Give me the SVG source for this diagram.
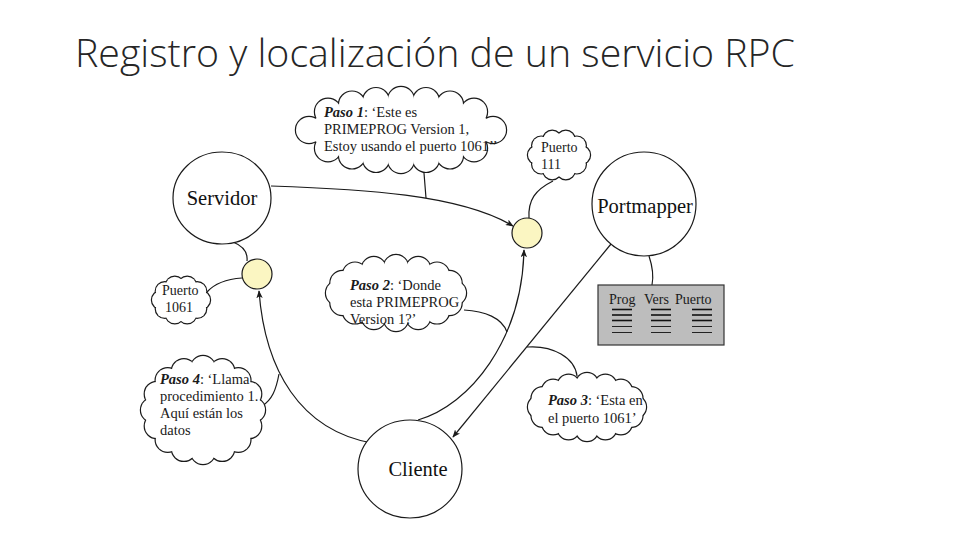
<svg xmlns="http://www.w3.org/2000/svg" xmlns:xlink="http://www.w3.org/1999/xlink" width="960" height="540" viewBox="0 0 960 540">
<style>
.bg{fill:#fff}
.title{font-family:"Open Sans","Liberation Sans",sans-serif;font-weight:300;font-size:38px;fill:#262626}
.node{fill:#fff;stroke:#1a1a1a;stroke-width:1.2}
.port{fill:#fbf6c2;stroke:#1a1a1a;stroke-width:1.2}
.lbl{font-family:"Liberation Serif","Times New Roman",serif;font-size:20.5px;fill:#111;text-anchor:middle}
.t{font-family:"Liberation Serif","Times New Roman",serif;font-size:14.5px;fill:#1a1a1a}
.ts{font-family:"Liberation Serif","Times New Roman",serif;font-size:14px;fill:#1a1a1a}
.bi{font-weight:bold;font-style:italic}
.cl-o{fill:#fff;stroke:#1a1a1a;stroke-width:2.4}
.cl-i{fill:#fff;stroke:none}
.con{fill:none;stroke:#1a1a1a;stroke-width:1.2}
.arr{fill:none;stroke:#1a1a1a;stroke-width:1.2;marker-end:url(#ah)}
.tbl{fill:#bdbdbd;stroke:#333;stroke-width:1.2}
.rk{stroke:#111;stroke-width:1.6}
.rt{stroke:#111;stroke-width:0.9}
</style>
<defs>
<marker id="ah" viewBox="0 0 10 8" refX="9" refY="4" markerWidth="8" markerHeight="6.4" orient="auto" markerUnits="userSpaceOnUse">
<path d="M0,0 L10,4 L0,8 L2.5,4 z" fill="#1a1a1a"/>
</marker>
<g id="c1">
<ellipse cx="401" cy="130" rx="92" ry="30"/>
<circle cx="328" cy="111.7" r="13"/><circle cx="352" cy="104.6" r="13"/><circle cx="376" cy="101.1" r="13"/><circle cx="401" cy="100" r="13"/><circle cx="426" cy="101.1" r="13"/><circle cx="450" cy="104.6" r="13"/><circle cx="474" cy="111.7" r="13"/>
<circle cx="493" cy="130" r="13"/>
<circle cx="474" cy="148.3" r="13"/><circle cx="450" cy="155.4" r="13"/><circle cx="426" cy="158.9" r="13"/><circle cx="401" cy="160" r="13"/><circle cx="376" cy="158.9" r="13"/><circle cx="352" cy="155.4" r="13"/><circle cx="328" cy="148.3" r="13"/>
<circle cx="309" cy="130" r="13"/>
</g>
<g id="c2">
<ellipse cx="559" cy="155" rx="22" ry="16"/>
<circle cx="581" cy="155" r="9"/><circle cx="576.8" cy="164.4" r="9"/><circle cx="565.8" cy="170.2" r="9"/><circle cx="552.2" cy="170.2" r="9"/><circle cx="541.2" cy="164.4" r="9"/><circle cx="537" cy="155" r="9"/><circle cx="541.2" cy="145.6" r="9"/><circle cx="552.2" cy="139.8" r="9"/><circle cx="565.8" cy="139.8" r="9"/><circle cx="576.8" cy="145.6" r="9"/>
</g>
<g id="c3">
<ellipse cx="181" cy="300" rx="20" ry="15"/>
<circle cx="201" cy="300" r="9"/><circle cx="197.2" cy="308.8" r="9"/><circle cx="187.2" cy="314.3" r="9"/><circle cx="174.8" cy="314.3" r="9"/><circle cx="164.8" cy="308.8" r="9"/><circle cx="161" cy="300" r="9"/><circle cx="164.8" cy="291.2" r="9"/><circle cx="174.8" cy="285.7" r="9"/><circle cx="187.2" cy="285.7" r="9"/><circle cx="197.2" cy="291.2" r="9"/>
</g>
<g id="c4">
<ellipse cx="396" cy="293" rx="58" ry="26"/>
<circle cx="454" cy="293" r="12"/><circle cx="449.6" cy="303" r="12"/><circle cx="437" cy="311.4" r="12"/><circle cx="418.2" cy="317" r="12"/><circle cx="396" cy="319" r="12"/><circle cx="373.8" cy="317" r="12"/><circle cx="355" cy="311.4" r="12"/><circle cx="342.4" cy="303" r="12"/><circle cx="338" cy="293" r="12"/><circle cx="342.4" cy="283" r="12"/><circle cx="355" cy="274.6" r="12"/><circle cx="373.8" cy="269" r="12"/><circle cx="396" cy="267" r="12"/><circle cx="418.2" cy="269" r="12"/><circle cx="437" cy="274.6" r="12"/><circle cx="449.6" cy="283" r="12"/>
</g>
<g id="c5">
<ellipse cx="587" cy="407" rx="48" ry="23"/>
<circle cx="635" cy="407" r="11"/><circle cx="631.4" cy="415.8" r="11"/><circle cx="620.9" cy="423.3" r="11"/><circle cx="605.4" cy="428.3" r="11"/><circle cx="587" cy="430" r="11"/><circle cx="568.6" cy="428.3" r="11"/><circle cx="553.1" cy="423.3" r="11"/><circle cx="542.6" cy="415.8" r="11"/><circle cx="539" cy="407" r="11"/><circle cx="542.6" cy="398.2" r="11"/><circle cx="553.1" cy="390.7" r="11"/><circle cx="568.6" cy="385.7" r="11"/><circle cx="587" cy="384" r="11"/><circle cx="605.4" cy="385.7" r="11"/><circle cx="620.9" cy="390.7" r="11"/><circle cx="631.4" cy="398.2" r="11"/>
</g>
<g id="c6">
<ellipse cx="203" cy="410" rx="50" ry="42"/>
<circle cx="253" cy="410" r="12"/><circle cx="249.2" cy="426.1" r="12"/><circle cx="238.4" cy="439.7" r="12"/><circle cx="222.2" cy="448.8" r="12"/><circle cx="203" cy="452" r="12"/><circle cx="183.9" cy="448.8" r="12"/><circle cx="167.7" cy="439.7" r="12"/><circle cx="156.8" cy="426.1" r="12"/><circle cx="153" cy="410" r="12"/><circle cx="156.8" cy="393.9" r="12"/><circle cx="167.7" cy="380.3" r="12"/><circle cx="183.9" cy="371.2" r="12"/><circle cx="203" cy="368" r="12"/><circle cx="222.2" cy="371.2" r="12"/><circle cx="238.4" cy="380.3" r="12"/><circle cx="249.2" cy="393.9" r="12"/>
</g>
</defs>
<rect class="bg" x="0" y="0" width="960" height="540"/>
<text class="title" x="75" y="67" textLength="720" lengthAdjust="spacingAndGlyphs">Registro y localización de un servicio RPC</text>

<g id="connectors">
<path class="arr" d="M271,186 C360,189 460,194 513,226"/>
<path class="con" d="M419,167 Q423,170 424,173 L426,198"/>
<path class="con" d="M553,181 C535,190 528,200 529,218"/>
<path class="con" d="M233,242 C243,246 248,252 247,261"/>
<path class="con" d="M207,292 C215,283 228,279 242,278"/>
<path class="arr" d="M372,443 C300,430 265,370 259,291"/>
<path class="con" d="M262,406 C272,400 276,390 279,374"/>
<path class="arr" d="M418,420 C470,405 522,340 524,250"/>
<path class="con" d="M464,310 C485,311 502,318 507,332"/>
<path class="arr" d="M611,244 L453,437"/>
<path class="con" d="M527,347 C553,345 575,358 577,376"/>
<path class="con" d="M649,256 C652,265 654,275 652,285"/>
</g>

<g id="servidor">
<ellipse class="node" cx="222" cy="198" rx="49" ry="46"/>
<text class="lbl" x="222" y="205">Servidor</text>
</g>
<g id="portmapper">
<circle class="node" cx="644" cy="204" r="52"/>
<text class="lbl" x="645" y="213">Portmapper</text>
</g>
<g id="cliente">
<ellipse class="node" cx="410" cy="469" rx="52" ry="49"/>
<text class="lbl" x="418" y="476">Cliente</text>
</g>
<g id="puerto-servidor">
<circle class="port" cx="257" cy="274" r="15"/>
</g>
<g id="puerto-portmapper">
<circle class="port" cx="527" cy="233" r="15"/>
</g>
<g id="tabla">
<rect class="tbl" x="598" y="285" width="126" height="60"/>
<text class="ts" x="609" y="304">Prog</text>
<text class="ts" x="644" y="304">Vers</text>
<text class="ts" x="675" y="304">Puerto</text>
<g>
<line class="rk" x1="612" y1="309.5" x2="632" y2="309.5"/><line class="rk" x1="612" y1="315" x2="632" y2="315"/><line class="rk" x1="612" y1="320.5" x2="632" y2="320.5"/><line class="rt" x1="612" y1="326.5" x2="632" y2="326.5"/><line class="rt" x1="612" y1="332.5" x2="632" y2="332.5"/>
<line class="rk" x1="651" y1="309.5" x2="671" y2="309.5"/><line class="rk" x1="651" y1="315" x2="671" y2="315"/><line class="rk" x1="651" y1="320.5" x2="671" y2="320.5"/><line class="rt" x1="651" y1="326.5" x2="671" y2="326.5"/><line class="rt" x1="651" y1="332.5" x2="671" y2="332.5"/>
<line class="rk" x1="692" y1="309.5" x2="712" y2="309.5"/><line class="rk" x1="692" y1="315" x2="712" y2="315"/><line class="rk" x1="692" y1="320.5" x2="712" y2="320.5"/><line class="rt" x1="692" y1="326.5" x2="712" y2="326.5"/><line class="rt" x1="692" y1="332.5" x2="712" y2="332.5"/>
</g>
</g>

<g id="paso1">
<use xlink:href="#c1" href="#c1" class="cl-o"/><use xlink:href="#c1" href="#c1" class="cl-i"/>
<text class="t" x="324" y="117"><tspan class="bi">Paso 1</tspan>: ‘Este es</text>
<text class="t" x="324" y="134">PRIMEPROG Version 1,</text>
<text class="t" x="324" y="151">Estoy usando el puerto 1061’’</text>
</g>
<g id="puerto111">
<use xlink:href="#c2" href="#c2" class="cl-o"/><use xlink:href="#c2" href="#c2" class="cl-i"/>
<text class="ts" x="541" y="152">Puerto</text>
<text class="ts" x="541" y="169">111</text>
</g>
<g id="puerto1061">
<use xlink:href="#c3" href="#c3" class="cl-o"/><use xlink:href="#c3" href="#c3" class="cl-i"/>
<text class="ts" x="162" y="295">Puerto</text>
<text class="ts" x="165" y="312">1061</text>
</g>
<g id="paso2">
<use xlink:href="#c4" href="#c4" class="cl-o"/><use xlink:href="#c4" href="#c4" class="cl-i"/>
<text class="t" x="350" y="290"><tspan class="bi">Paso 2</tspan>: ‘Donde</text>
<text class="t" x="350" y="307">esta PRIMEPROG</text>
<text class="t" x="350" y="324">Version 1?’</text>
</g>
<g id="paso3">
<use xlink:href="#c5" href="#c5" class="cl-o"/><use xlink:href="#c5" href="#c5" class="cl-i"/>
<text class="t" x="548" y="405"><tspan class="bi">Paso 3</tspan>: ‘Esta en</text>
<text class="t" x="548" y="423">el puerto 1061’</text>
</g>
<g id="paso4">
<use xlink:href="#c6" href="#c6" class="cl-o"/><use xlink:href="#c6" href="#c6" class="cl-i"/>
<text class="t" x="160" y="384"><tspan class="bi">Paso 4</tspan>: ‘Llama</text>
<text class="t" x="160" y="401">procedimiento 1.</text>
<text class="t" x="160" y="418">Aquí están los</text>
<text class="t" x="160" y="435">datos</text>
</g>
</svg>
